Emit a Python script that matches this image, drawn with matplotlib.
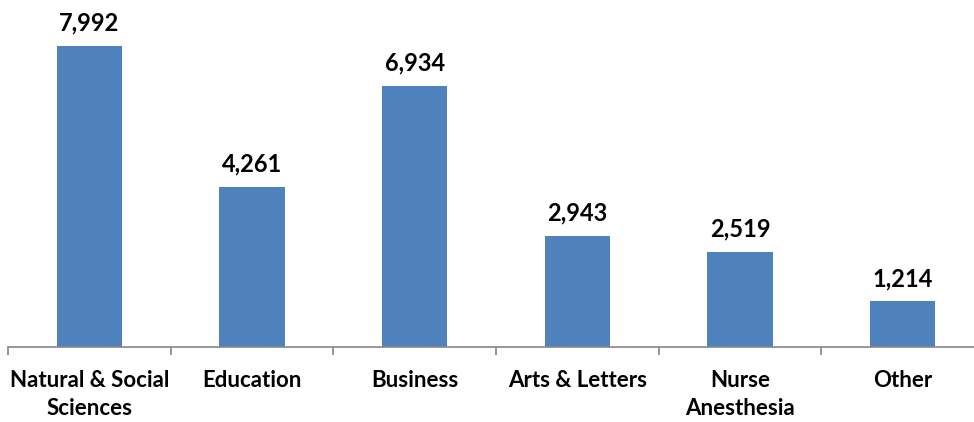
import matplotlib
matplotlib.use("Agg")
import matplotlib.pyplot as plt
import numpy as np

categories = ["Natural & Social\nSciences", "Education", "Business",
              "Arts & Letters", "Nurse\nAnesthesia", "Other"]
values = [7992, 4261, 6934, 2943, 2519, 1214]

BAR_COLOR = "#4F81BD"
AXIS_COLOR = "#868686"

plt.rcParams["font.family"] = ["Lato", "DejaVu Sans"]

fig = plt.figure(figsize=(9.74, 4.22), dpi=100)
# axis spans a bit past the right edge, as in the reference
ax = fig.add_axes([8 / 974, 75 / 422, 976 / 974, 347 / 422])

x = np.arange(len(categories))
bars = ax.bar(x, values, width=0.4, color=BAR_COLOR)

for xi, v in zip(x, values):
    ax.text(xi, v + 300, f"{v:,}", ha="center", va="bottom",
            fontsize=17, fontweight="bold", color="black")

ax.set_xlim(-0.5, len(categories) - 0.5)
ax.set_ylim(0, 9214)

for side in ["top", "right", "left"]:
    ax.spines[side].set_visible(False)
ax.spines["bottom"].set_color(AXIS_COLOR)
ax.spines["bottom"].set_linewidth(1.2)
ax.set_yticks([])

# category boundaries get the tick marks
ax.set_xticks(np.arange(len(categories) + 1) - 0.5)
ax.set_xticklabels([])
ax.tick_params(axis="x", direction="out", length=6, width=1.2, color=AXIS_COLOR)

for xi, cat in zip(x, categories):
    ax.text(xi, -0.065, cat, transform=ax.get_xaxis_transform(),
            ha="center", va="top", fontsize=16, fontweight="bold",
            linespacing=1.45)

fig.savefig("out.png", dpi=100)
